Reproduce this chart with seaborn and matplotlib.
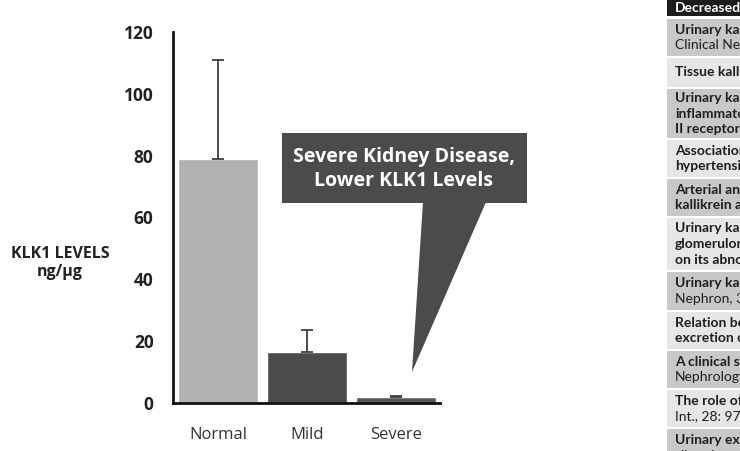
import matplotlib
matplotlib.use("Agg")
import matplotlib.pyplot as plt
from matplotlib.patches import Polygon, Rectangle
import seaborn as sns
import pandas as pd

# ---- data ----
categories = ["Normal", "Mild", "Severe"]
klk1_levels = [79, 16.5, 1.8]
error_upper = [32, 7, 0.4]
bar_colors = ["#b1b1b1", "#4b4b4b", "#585858"]
y_ticks = [0, 20, 40, 60, 80, 100, 120]
y_label = "KLK1 LEVELS\nng/µg"
callout_text = "Severe Kidney Disease,\nLower KLK1 Levels"

table_header = "Decreased"
table_rows = [
    ["Urinary kall", "Clinical Nep"],
    ["Tissue kallik"],
    ["Urinary kall", "inflammato", "II receptor b"],
    ["Association", "hypertensio"],
    ["Arterial and", "kallikrein ac"],
    ["Urinary kall", "glomerulon", "on its abnor"],
    ["Urinary kall", "Nephron, 3"],
    ["Relation be", "excretion o"],
    ["A clinical st", "Nephrology"],
    ["The role of", "Int., 28: 975"],
    ["Urinary exc", "albumin"],
]
table_bold_lines = [1, 1, 3, 2, 2, 3, 1, 2, 1, 1, 1]

W, H = 740, 451
sns.set_theme(style="white")
plt.rcParams["font.family"] = ["Open Sans", "DejaVu Sans"]

fig = plt.figure(figsize=(W / 100, H / 100), dpi=100)
fig.patch.set_facecolor("white")

def px(x0, y0, x1, y1):
    return [x0 / W, 1 - y1 / H, (x1 - x0) / W, (y1 - y0) / H]

ax = fig.add_axes(px(173, 32, 440, 403))
df = pd.DataFrame({"category": categories, "value": klk1_levels})
sns.barplot(data=df, x="category", y="value", hue="category", palette=bar_colors,
            width=0.9, ax=ax, legend=False, saturation=1, errorbar=None)
ax.errorbar(range(len(categories)), klk1_levels,
            yerr=[[0] * len(categories), error_upper],
            fmt="none", ecolor="#404040", elinewidth=1.3, capsize=4, capthick=1.3)
ax.set_xlim(-0.506, 2.49)
ax.set_ylim(0, 120)
ax.set_yticks(y_ticks)
ax.set_yticklabels([str(t) for t in y_ticks], fontsize=12.5, fontweight="bold", color="#222222")
ax.tick_params(axis="y", length=0, pad=14)
ax.tick_params(axis="x", length=0, pad=17, labelsize=12, labelcolor="#333333")
ax.set_xlabel("")
ax.set_ylabel("")
for s in ["top", "right"]:
    ax.spines[s].set_visible(False)
for s in ["left", "bottom"]:
    ax.spines[s].set_color("#111111")
    ax.spines[s].set_linewidth(2)
ax.set_facecolor("white")

fig.text(60 / W, 1 - 263 / H, y_label, ha="center", va="center",
         fontsize=11.5, fontweight="bold", color="#222222", linespacing=1.1)

# callout
def fpt(x, y):
    return (x / W, 1 - y / H)

callout_color = "#4b4b4b"
fig.add_artist(Rectangle(fpt(282, 203), 245 / W, 70 / H, transform=fig.transFigure,
                         facecolor=callout_color, edgecolor="none"))
fig.add_artist(Polygon([fpt(423, 202), fpt(486, 202), fpt(412, 372)], closed=True,
                       transform=fig.transFigure, facecolor=callout_color, edgecolor="none"))
fig.text(404 / W, 1 - 169 / H, callout_text, ha="center", va="center", color="white",
         fontsize=14, fontweight="bold", linespacing=1.25)

# right-hand table (cropped by the image edge, as in the reference)
tx0 = 667
fig.add_artist(Rectangle(fpt(tx0, 16), (W - tx0) / W, 16 / H, transform=fig.transFigure,
                         facecolor="#1c1c1c", edgecolor="none"))
fig.text(675 / W, 1 - 8 / H, table_header, ha="left", va="center", color="white",
         fontsize=10, fontweight="bold", family=["Lato", "DejaVu Sans"])
row_bounds = [(19, 56), (58, 87), (89, 138), (140, 177), (179, 216), (218, 270),
              (272, 310), (312, 349), (351, 388), (390, 427), (429, 470)]
for i, ((y0, y1), lines) in enumerate(zip(row_bounds, table_rows)):
    color = "#c8c8c8" if i % 2 == 0 else "#e6e6e6"
    fig.add_artist(Rectangle(fpt(tx0, y1), (W - tx0) / W, (y1 - y0) / H,
                             transform=fig.transFigure, facecolor=color, edgecolor="none"))
    n = len(lines)
    if i == len(table_rows) - 1:
        start = y0 + 11
    else:
        start = (y0 + y1) / 2 - (n - 1) * 15.5 / 2
    for j, line in enumerate(lines):
        fig.text(675 / W, 1 - (start + j * 15.5) / H, line, ha="left", va="center",
                 color="#1e1e1e", fontsize=10,
                 fontweight="bold" if j < table_bold_lines[i] else "normal",
                 family=["Lato", "DejaVu Sans"])

fig.savefig("out.png", dpi=100, facecolor="white")
